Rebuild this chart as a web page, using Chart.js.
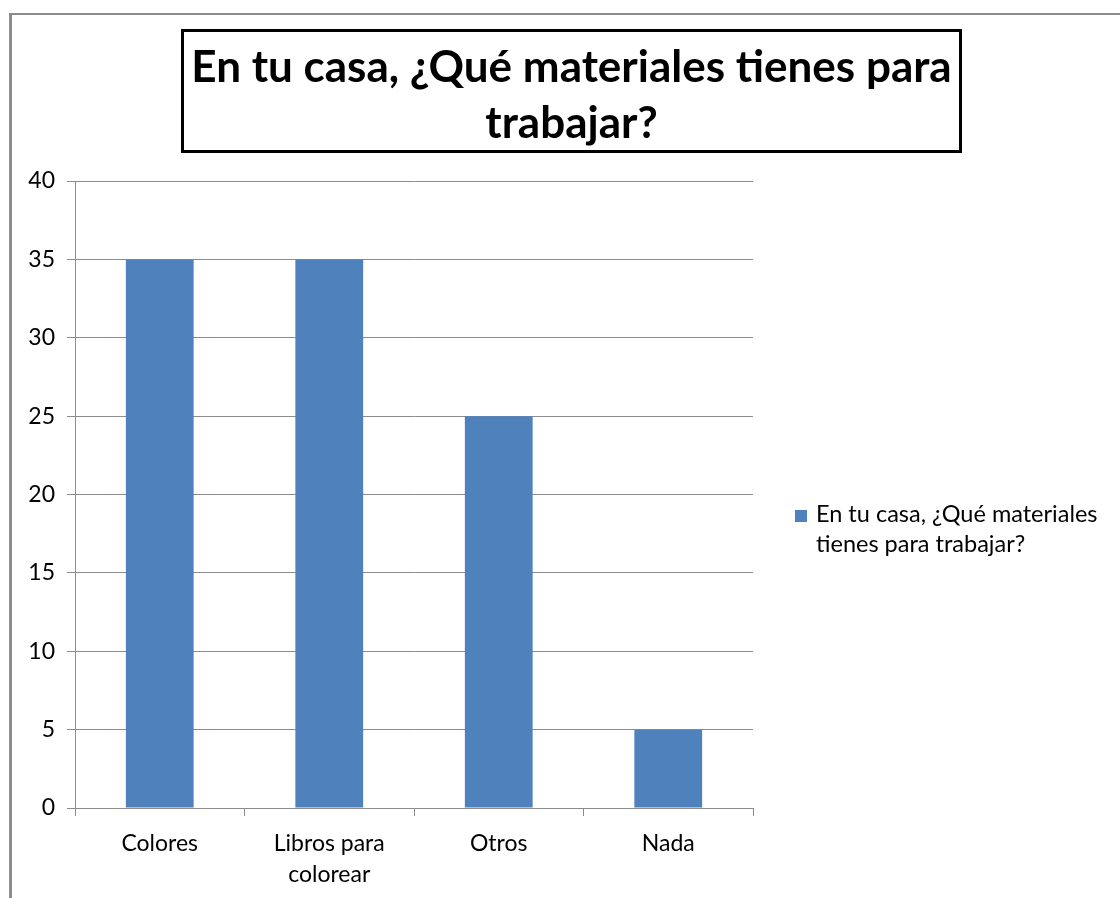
<!DOCTYPE html>
<html>
<head>
<meta charset="utf-8">
<script src="https://cdn.jsdelivr.net/npm/chart.js@4.4.0/dist/chart.umd.min.js"></script>
<style>
  body { margin: 0; background: #fff; }
  #wrap { position: relative; width: 1120px; height: 898px; overflow: hidden; }
  #frame { position: absolute; left: 9px; top: 13px; width: 1200px; height: 1000px;
    border-top: 2px solid #8c8c8c; border-left: 3px solid #8c8c8c; }
  #title { position: absolute; left: 181px; top: 29px; width: 775px; height: 114px;
    border: 3px solid #000; font-family: "Lato", "Open Sans", sans-serif; font-weight: bold;
    font-size: 44px; line-height: 56px; text-align: center; color: #000;
    display: flex; align-items: center; justify-content: center; padding-top: 4px; box-sizing: content-box; }
  #legend { position: absolute; left: 795px; top: 498px; font-family: "Lato", "Open Sans", sans-serif;
    font-size: 23.5px; line-height: 30px; color: #000; }
  #legend .box { display: inline-block; width: 12px; height: 12px; background: #4F81BD;
    margin-right: 9px; vertical-align: 0px; }
  #legend .l2 { padding-left: 21px; }
  canvas { position: absolute; left: 0; top: 0; }
</style>
</head>
<body>
<div id="wrap">
  <div id="frame"></div>
  <canvas id="chart" width="1120" height="898"></canvas>
  <div id="title">En tu casa, ¿Qué materiales tienes para<br>trabajar?</div>
  <div id="legend"><span class="box"></span>En tu casa, ¿Qué materiales<div class="l2">tienes para trabajar?</div></div>
</div>
<script>
const categories = ["Colores", ["Libros para", "colorear"], "Otros", "Nada"];
const seriesName = "En tu casa, ¿Qué materiales tienes para trabajar?";
const seriesValues = [35, 35, 25, 5];
const yTicks = [0, 5, 10, 15, 20, 25, 30, 35, 40];

const gridColor = "#8c8c8c";
const fontFamily = "Lato, 'Open Sans', sans-serif";

new Chart(document.getElementById("chart"), {
  type: "bar",
  data: {
    labels: categories,
    datasets: [{
      label: seriesName,
      data: seriesValues,
      backgroundColor: "#4F81BD",
      barPercentage: 0.4,
      categoryPercentage: 1,
    }],
  },
  options: {
    responsive: false,
    animation: false,
    layout: { padding: { left: 10, right: 367, top: 181, bottom: 0 } },
    plugins: { legend: { display: false }, title: { display: false }, tooltip: { enabled: false } },
    scales: {
      x: {
        afterFit: (s) => { s.height = 90; },
        grid: { drawOnChartArea: false, drawTicks: true, tickLength: 8, color: gridColor, offset: true },
        border: { color: gridColor },
        ticks: { color: "#000", padding: 12, font: { family: fontFamily, size: 23, lineHeight: 1.35 } },
      },
      y: {
        min: 0,
        max: 40,
        afterFit: (s) => { s.width = 65; },
        afterBuildTicks: (s) => { s.ticks = yTicks.map((v) => ({ value: v })); },
        grid: { color: gridColor, tickLength: 8 },
        border: { color: gridColor },
        ticks: { color: "#000", padding: 12, font: { family: fontFamily, size: 23 } },
      },
    },
  },
});
</script>
</body>
</html>
